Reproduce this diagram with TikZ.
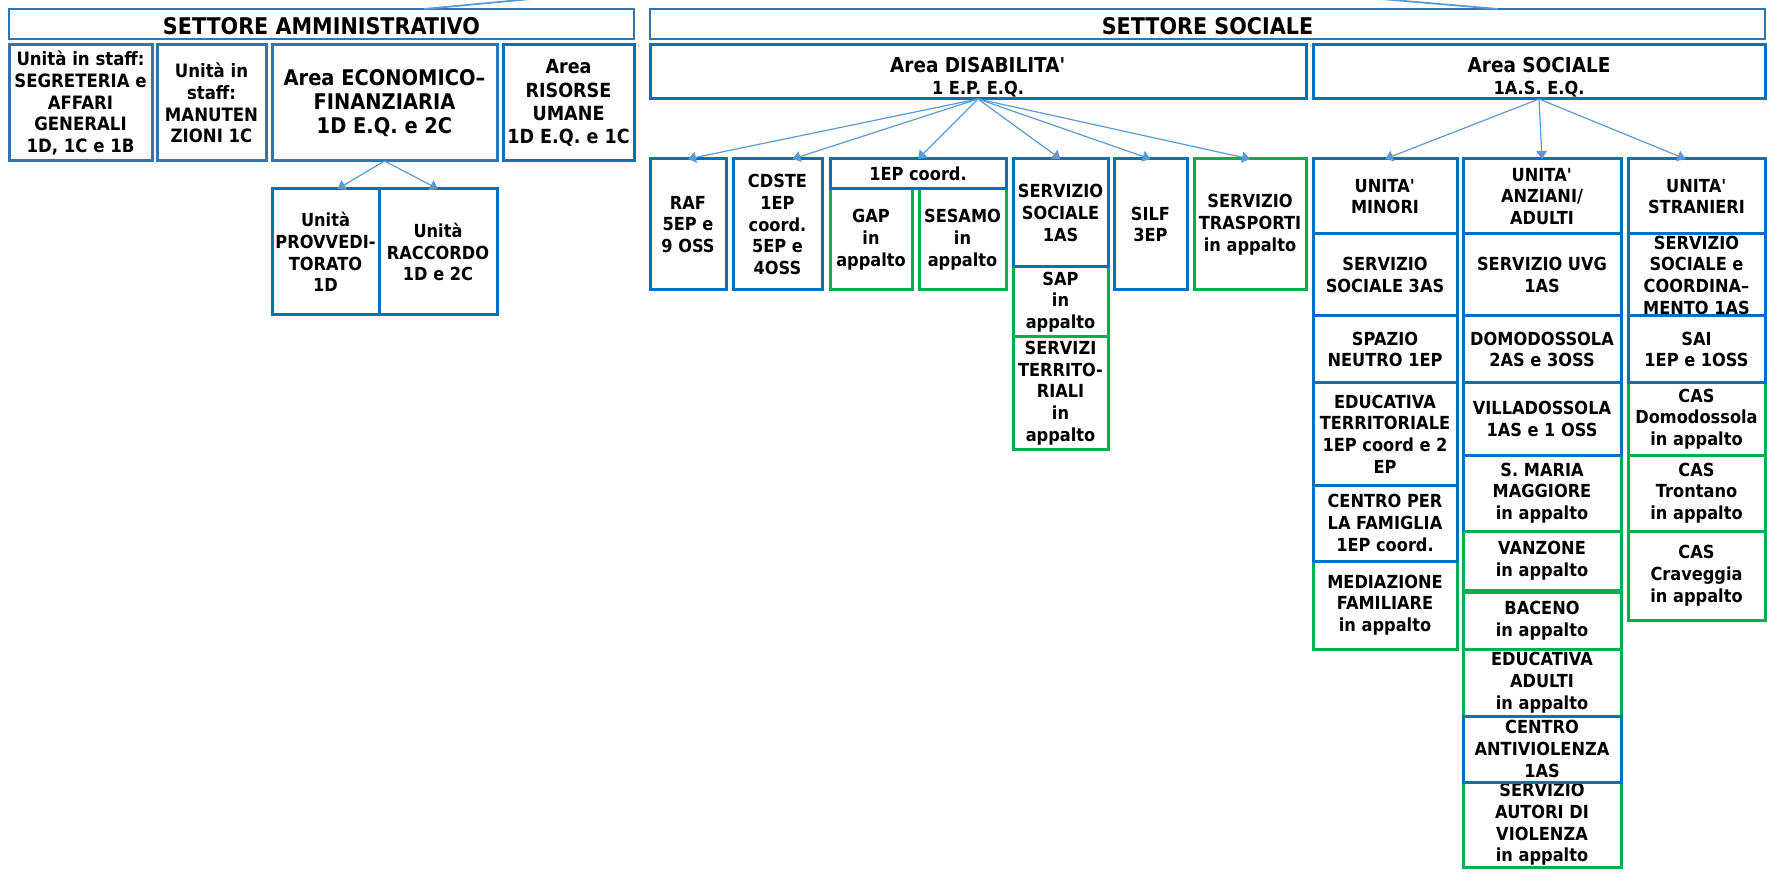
\documentclass[tikz,border=0pt]{standalone}
\usepackage{fontspec}
\setmainfont{DejaVu Sans}[FakeStretch=0.9]
\usetikzlibrary{arrows.meta,calc}
\definecolor{boxblue}{HTML}{0070C0}
\definecolor{boxgreen}{HTML}{00B050}
\definecolor{sectblue}{HTML}{2E75B6}
\definecolor{linkblue}{HTML}{5B9BD5}
\newcommand{\orgbox}[7]{\node[#1, minimum width={(#5-#3)*1pt}, minimum height={(#6-#4)*1pt}] (#2) at ({(#3+#5)/2},{(#4+#6)/2}) {#7};}

\begin{document}
\begin{tikzpicture}[x=1pt, y=-1pt,
    bluebox/.style={draw=boxblue, line width=3pt, align=center, inner sep=0pt, outer sep=0pt, font=\fontsize{18}{21.7}\selectfont\bfseries},
    greenbox/.style={bluebox, draw=boxgreen},
    areabox/.style={bluebox, font=\fontsize{20.5}{22.3}\selectfont\bfseries},
    sectbox/.style={draw=sectblue, line width=2.6pt, inner sep=0pt, outer sep=0pt, text height=22pt, text depth=0pt, font=\fontsize{23}{26}\selectfont\bfseries},
    link/.style={draw=linkblue, line width=1.2pt, -{Triangle[length=8pt,width=11pt]}},
    feed/.style={draw=linkblue, line width=1.8pt}]

        \useasboundingbox (0,0) rectangle (1767,874);

        \coordinate (dir) at (938,-39);
        \orgbox{sectbox}{amm}{9}{9}{634}{39}{SETTORE AMMINISTRATIVO}
        \orgbox{sectbox}{soc}{650}{9}{1765}{39}{SETTORE SOCIALE}
        \draw[feed] (dir) -- ($(amm.north west)!0.664!(amm.north east)$);
        \draw[feed] (dir) -- ($(soc.north west)!0.7605!(soc.north east)$);

        \orgbox{bluebox,draw=sectblue,font=\fontsize{18.4}{21.8}\selectfont\bfseries}{segr}{9}{45}{152}{161}{Unità in staff:\\SEGRETERIA e\\AFFARI\\GENERALI\\1D, 1C e 1B}
        \orgbox{bluebox,draw=sectblue,font=\fontsize{18.4}{21.8}\selectfont\bfseries}{manut}{157}{45}{266}{161}{Unità in\\staff:\\MANUTEN\\ZIONI 1C}
        \orgbox{bluebox,draw=sectblue,font=\fontsize{21.6}{23.8}\selectfont\bfseries}{econ}{272}{45}{497}{161}{Area ECONOMICO--\\FINANZIARIA\\1D E.Q. e 2C}
        \orgbox{bluebox,font=\fontsize{19.5}{23.3}\selectfont\bfseries}{risorse}{503}{45}{634}{161}{Area\\RISORSE\\UMANE\\1D E.Q. e 1C}
        \orgbox{bluebox}{provv}{272}{189}{379}{315}{Unità\\PROVVEDI-\\TORATO\\1D}
        \orgbox{bluebox}{racc}{379}{189}{497}{315}{Unità\\RACCORDO\\1D e 2C}
        \draw[link] (econ.south) -- ([xshift=12pt]provv.north);
        \draw[link] (econ.south) -- (racc.north);

        \orgbox{areabox}{dis}{650}{45}{1306}{99}{\rule{0pt}{26pt}Area DISABILITA\textquotesingle\\{\fontsize{18}{22.3}\selectfont 1 E.P. E.Q.}}
        \orgbox{areabox}{ocs}{1313}{45}{1765}{99}{\rule{0pt}{26pt}Area SOCIALE\\{\fontsize{18}{22.3}\selectfont 1A.S. E.Q.}}

        \orgbox{greenbox}{gap}{830}{189}{912}{290}{GAP\\in\\appalto}
        \orgbox{greenbox}{sesamo}{919}{189}{1006}{290}{SESAMO\\in\\appalto}
        \orgbox{greenbox}{sap}{1013}{267}{1108}{337}{SAP\\in\\appalto}
        \orgbox{greenbox}{terr}{1013}{337}{1108}{449}{SERVIZI\\TERRITO-\\RIALI\\in\\appalto}
        \orgbox{greenbox}{trasp}{1194}{159}{1306}{290}{SERVIZIO\\TRASPORTI\\in appalto}
        \orgbox{bluebox}{raf}{650}{159}{726}{290}{RAF\\5EP e\\9 OSS}
        \orgbox{bluebox}{cdste}{733}{159}{822}{290}{CDSTE\\1EP\\coord.\\5EP e\\4OSS}
        \orgbox{bluebox}{coord}{830}{159}{1006}{189}{1EP coord.}
        \orgbox{bluebox}{sss}{1013}{159}{1108}{267}{SERVIZIO\\SOCIALE\\1AS}
        \orgbox{bluebox}{silf}{1114}{159}{1187}{290}{SILF\\3EP}
        \foreach \n in {raf,coord,sss,silf,trasp}
            \draw[link] (dis.south) -- (\n.north);
        \draw[link] (dis.south) -- ([xshift=15pt]cdste.north);

        \orgbox{greenbox}{mediaz}{1313}{561}{1457}{649}{MEDIAZIONE\\FAMILIARE\\in appalto}
        \orgbox{bluebox}{minori}{1313}{159}{1457}{234}{UNITA\textquotesingle\\MINORI}
        \orgbox{bluebox}{ssmin}{1313}{234}{1457}{316}{SERVIZIO\\SOCIALE 3AS}
        \orgbox{bluebox}{spazio}{1313}{316}{1457}{383}{SPAZIO\\NEUTRO 1EP}
        \orgbox{bluebox}{edter}{1313}{383}{1457}{485}{EDUCATIVA\\TERRITORIALE\\1EP coord e 2\\EP}
        \orgbox{bluebox}{famiglia}{1313}{485}{1457}{561}{CENTRO PER\\LA FAMIGLIA\\1EP coord.}

        \orgbox{greenbox}{smaria}{1463}{455}{1621}{531}{S. MARIA\\MAGGIORE\\in appalto}
        \orgbox{greenbox}{vanzone}{1463}{531}{1621}{590}{VANZONE\\in appalto}
        \orgbox{greenbox}{baceno}{1463}{592}{1621}{649}{BACENO\\in appalto}
        \orgbox{greenbox}{edadulti}{1463}{649}{1621}{716}{EDUCATIVA\\ADULTI\\in appalto}
        \orgbox{greenbox}{autori}{1463}{782}{1621}{867}{SERVIZIO\\AUTORI DI\\VIOLENZA\\in appalto}
        \orgbox{bluebox}{anziani}{1463}{159}{1621}{234}{UNITA\textquotesingle\\ANZIANI/\\ADULTI}
        \orgbox{bluebox}{uvg}{1463}{234}{1621}{316}{SERVIZIO UVG\\1AS}
        \orgbox{bluebox}{domo}{1463}{316}{1621}{383}{DOMODOSSOLA\\2AS e 3OSS}
        \orgbox{bluebox}{villa}{1463}{383}{1621}{455}{VILLADOSSOLA\\1AS e 1 OSS}
        \orgbox{bluebox}{antiviol}{1463}{716}{1621}{782}{CENTRO\\ANTIVIOLENZA\\1AS}
        \draw[boxblue, line width=3pt] (smaria.south west) -- (smaria.north west);

        \orgbox{greenbox}{casdomo}{1628}{383}{1765}{455}{CAS\\Domodossola\\in appalto}
        \orgbox{greenbox}{castront}{1628}{455}{1765}{531}{CAS\\Trontano\\in appalto}
        \orgbox{greenbox}{cascrav}{1628}{531}{1765}{620}{CAS\\Craveggia\\in appalto}
        \orgbox{bluebox}{stranieri}{1628}{159}{1765}{234}{UNITA\textquotesingle\\STRANIERI}
        \orgbox{bluebox}{sscoord}{1628}{234}{1765}{316}{SERVIZIO\\SOCIALE e\\COORDINA--\\MENTO 1AS}
        \orgbox{bluebox}{sai}{1628}{316}{1765}{383}{SAI\\1EP e 1OSS}

        \draw[link] (ocs.south) -- (minori.north);
        \draw[link] (ocs.south) -- (anziani.north);
        \draw[link] (ocs.south) -- ([xshift=-11pt]stranieri.north);
    \end{tikzpicture}
\end{document}
